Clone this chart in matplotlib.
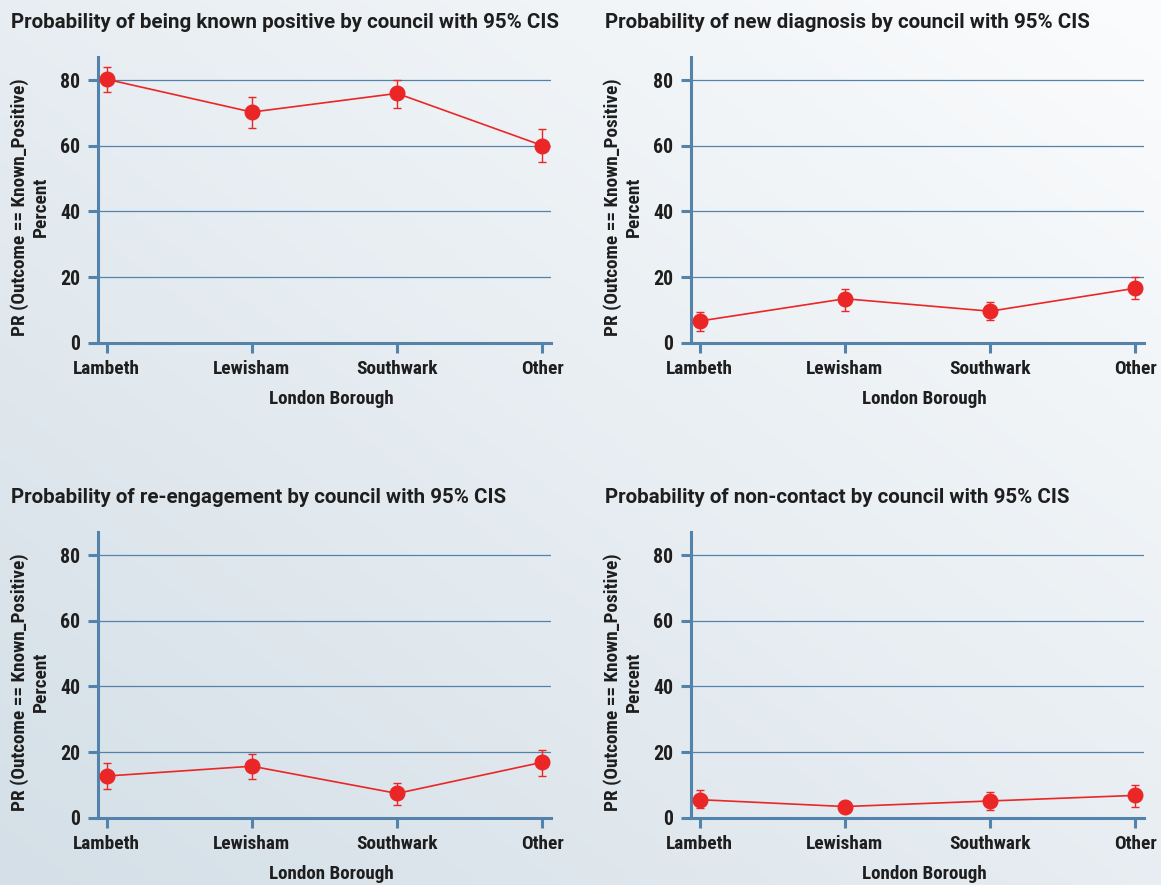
import os
import numpy as np
import matplotlib
matplotlib.use('Agg')
import matplotlib.pyplot as plt
from matplotlib import font_manager as fm

# ---------------- data ----------------
categories = ['Lambeth', 'Lewisham', 'Southwark', 'Other']

titles = [
    'Probability of being known positive by council with 95% CIS',
    'Probability of new diagnosis by council with 95% CIS',
    'Probability of re-engagement by council with 95% CIS',
    'Probability of non-contact by council with 95% CIS',
]

known_positive = [80.3, 70.3, 76.0, 60.1]
known_positive_lo = [76.4, 65.5, 71.4, 55.2]
known_positive_hi = [84.1, 75.0, 80.2, 65.1]

new_diagnosis = [6.6, 13.4, 9.6, 16.6]
new_diagnosis_lo = [3.7, 9.7, 6.8, 13.2]
new_diagnosis_hi = [9.4, 16.5, 12.3, 19.9]

re_engagement = [12.7, 15.7, 7.4, 16.9]
re_engagement_lo = [8.7, 11.7, 4.0, 12.7]
re_engagement_hi = [16.6, 19.5, 10.7, 20.5]

non_contact = [5.5, 3.4, 5.1, 6.8]
non_contact_lo = [2.9, 1.7, 2.4, 3.3]
non_contact_hi = [8.4, 5.2, 7.8, 10.0]

y_ticks = [0, 20, 40, 60, 80]
y_label_1 = 'PR (Outcome == Known_Positive)'
y_label_2 = 'Percent'
x_label = 'London Borough'

series = [
    (known_positive, known_positive_lo, known_positive_hi),
    (new_diagnosis, new_diagnosis_lo, new_diagnosis_hi),
    (re_engagement, re_engagement_lo, re_engagement_hi),
    (non_contact, non_contact_lo, non_contact_hi),
]

# ---------------- style ----------------
W, H = 1161, 885
BLUE = '#5383ab'
RED = '#ea2626'
TXT = '#1e1e1e'


def pick(patterns):
    files = {}
    for f in fm.fontManager.ttflist:
        k = os.path.basename(f.fname).lower().replace('-', '').replace('_', '').replace(' ', '')
        files[k] = f.fname
    for p in patterns:
        for k in sorted(files):
            if k.startswith(p):
                return files[k]
    return None


cond_file = pick(['robotocondensedbold', 'robotocondensedsemibold', 'liberationsansnarrowbold.',
                  'robotocondensedmedium', 'notosanscondensedsemibold', 'notosanscondensedbold',
                  'dejavusanscondensedbold.', 'opensanscondensedsemibold', 'opensanscondensedbold'])
if cond_file:
    fp_cond = fm.FontProperties(fname=cond_file)
else:
    fp_cond = fm.FontProperties(family='DejaVu Sans', weight='bold', stretch='condensed')

title_file = pick(['notosanssemicondensedsemibold', 'notosanssemicondensedbold',
                   'robotobold.', 'intersemibold.', 'opensanssemibold.'])
if title_file:
    fp_title = fm.FontProperties(fname=title_file)
else:
    fp_title = fm.FontProperties(family='DejaVu Sans', weight='bold')

fig = plt.figure(figsize=(W / 100, H / 100), dpi=100)
renderer = fig.canvas.get_renderer()


def fit_size(text, fp, target_px, base=12.0):
    t = fig.text(0, 0, text, fontproperties=fp, fontsize=base)
    w = t.get_window_extent(renderer).width
    t.remove()
    return base * target_px / w


title_fs = fit_size(titles[0], fp_title, 546)
xtick_fs = fit_size('Southwark', fp_cond, 82)
ytick_fs = fit_size('80', fp_cond, 20)
ylab_fs = fit_size(y_label_1, fp_cond, 258)
xlab_fs = fit_size(x_label, fp_cond, 125)

# ---------------- background gradient ----------------
bg = fig.add_axes([0, 0, 1, 1], zorder=-10)
xx, yy = np.meshgrid(np.linspace(0, 1, 400), np.linspace(0, 1, 400))
t = np.clip(0.5 * (xx + (1 - yy)), 0, 1)[..., None]
c0 = np.array([212, 223, 231]) / 255.0
c1 = np.array([251, 252, 253]) / 255.0
img = c0 * (1 - t) + c1 * t
bg.imshow(img, aspect='auto', extent=[0, 1, 0, 1], origin='upper')
bg.set_axis_off()

# ---------------- panels ----------------
ax_w, ax_h = 453, 285.4
origins = [(98, 57.3), (691, 57.3), (98, 532.3), (691, 532.3)]
x = np.arange(1, len(categories) + 1)

for i, ((left, top), (vals, lo, hi)) in enumerate(zip(origins, series)):
    ax = fig.add_axes([left / W, 1 - (top + ax_h) / H, ax_w / W, ax_h / H])
    ax.patch.set_visible(False)
    v = np.array(vals)
    yerr = [v - np.array(lo), np.array(hi) - v]
    ax.errorbar(x, v, yerr=yerr, fmt='-o', color=RED, ms=10.5, lw=1.2,
                elinewidth=1.0, capsize=3, capthick=1.0, zorder=3, clip_on=False)
    ax.set_xlim(0.94, 4.06)
    ax.set_ylim(0, 87)
    ax.set_xticks(x)
    ax.set_xticklabels(categories)
    ax.set_yticks(y_ticks)
    ax.set_yticklabels([str(k) for k in y_ticks])
    ax.yaxis.grid(True, color=BLUE, lw=0.9)
    ax.set_axisbelow(True)
    for s in ['top', 'right']:
        ax.spines[s].set_visible(False)
    for s in ['left', 'bottom']:
        ax.spines[s].set_color(BLUE)
        ax.spines[s].set_linewidth(2.2)
    ax.tick_params(axis='both', length=7, width=2.2, color=BLUE, direction='out', pad=5.8,
                   labelcolor=TXT)
    for lab in ax.get_xticklabels():
        lab.set_fontproperties(fp_cond)
        lab.set_fontsize(xtick_fs)
    for lab in ax.get_yticklabels():
        lab.set_fontproperties(fp_cond)
        lab.set_fontsize(ytick_fs)

    dx = left - 98
    dy = top - 57.3
    fig.text((11 + dx * (594 / 593)) / W, 1 - (28.3 + dy) / H, titles[i], ha='left', va='baseline',
             fontproperties=fp_title, fontsize=title_fs, color=TXT)
    fig.text((19.5 + dx) / W, 1 - (207 + dy) / H, y_label_1, rotation=90, ha='center', va='center',
             fontproperties=fp_cond, fontsize=ylab_fs, color=TXT)
    fig.text((41 + dx) / W, 1 - (207 + dy) / H, y_label_2, rotation=90, ha='center', va='center',
             fontproperties=fp_cond, fontsize=ylab_fs, color=TXT)
    fig.text((331 + dx) / W, 1 - (404 + dy) / H, x_label, ha='center', va='baseline',
             fontproperties=fp_cond, fontsize=xlab_fs, color=TXT)

fig.savefig('out.png', dpi=100)
